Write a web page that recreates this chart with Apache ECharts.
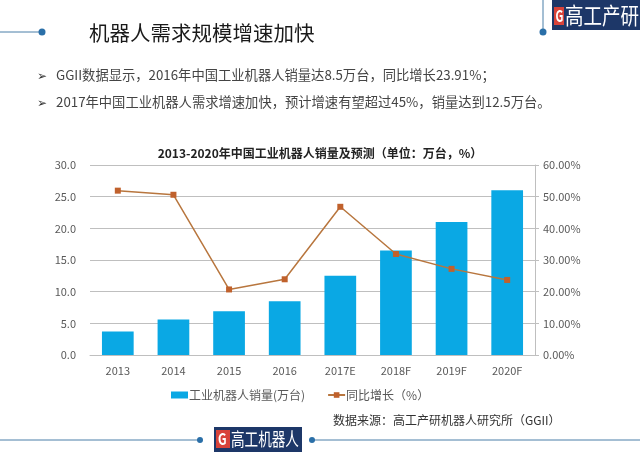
<!DOCTYPE html>
<html><head><meta charset="utf-8">
<script src="https://cdn.jsdelivr.net/npm/echarts@6/dist/echarts.min.js"></script>
<style>html,body{margin:0;padding:0;background:#fff}#c{width:640px;height:462px}</style>
</head><body><div id="c"></div>
<script>
const categories = ['2013','2014','2015','2016','2017E','2018F','2019F','2020F'];
const salesValues = [3.7, 5.6, 6.9, 8.5, 12.5, 16.5, 21.0, 26.0];
const growthValues = [51.9, 50.6, 20.7, 23.91, 46.8, 31.9, 27.2, 23.7];
const leftTicks = [0, 5, 10, 15, 20, 25, 30];
const rightTicks = [0, 10, 20, 30, 40, 50, 60];

const F = '"Noto Sans CJK SC","Noto Sans",sans-serif';
const LINE = '#4a7fa8', DOT = '#2a6fa8', NAVY = '#1d3768', RED = '#d8433a';
function txt(x, y, text, font, fill, extra) {
  return Object.assign({type: 'text', x: x, y: y,
    style: {text: text, font: font, fill: fill, textVerticalAlign: 'middle'}}, extra || {});
}
const chart = echarts.init(document.getElementById('c'));
chart.setOption({
  backgroundColor: '#fff',
  animation: false,
  title: {
    text: '2013-2020年中国工业机器人销量及预测（单位：万台，%）',
    left: 315, top: 142, textAlign: 'center',
    textStyle: {fontFamily: F, fontSize: 12, fontWeight: 'bold', color: '#222'}
  },
  legend: {
    top: 384, left: 166, itemGap: 22, itemWidth: 17, itemHeight: 7,
    textStyle: {fontFamily: F, fontSize: 12, color: '#595959', padding: [0,0,0,-4]},
    data: [
      {name: '工业机器人销量(万台)', icon: 'rect'},
      {name: '同比增长（%）'}
    ]
  },
  grid: {left: 90, right: 105, top: 165, bottom: 107},
  xAxis: {
    type: 'category', data: categories,
    axisLine: {lineStyle: {color: '#bfbfbf'}},
    axisTick: {show: false},
    axisLabel: {fontFamily: F, fontSize: 11, color: '#595959', margin: 10}
  },
  yAxis: [
    {type: 'value', min: leftTicks[0], max: leftTicks[leftTicks.length-1], interval: 5,
     axisLine: {show: false}, axisTick: {show: false},
     splitLine: {lineStyle: {color: '#bfbfbf'}},
     axisLabel: {fontFamily: F, fontSize: 11, color: '#595959', margin: 14,
       formatter: v => v.toFixed(1)}},
    {type: 'value', min: rightTicks[0], max: rightTicks[rightTicks.length-1], interval: 10,
     position: 'right',
     axisLine: {show: true, lineStyle: {color: '#bfbfbf'}},
     axisTick: {show: true, length: 4, lineStyle: {color: '#bfbfbf'}},
     splitLine: {show: false},
     axisLabel: {fontFamily: F, fontSize: 11, color: '#595959', margin: 8,
       formatter: v => v.toFixed(2) + '%'}}
  ],
  series: [
    {name: '工业机器人销量(万台)', type: 'bar', data: salesValues, barWidth: '57%',
     itemStyle: {color: '#0AA8E4'}},
    {name: '同比增长（%）', type: 'line', yAxisIndex: 1, data: growthValues,
     symbol: 'rect', symbolSize: 6,
     lineStyle: {color: '#B8763E', width: 1.5},
     itemStyle: {color: '#C0612C'}}
  ],
  graphic: [
    {type: 'line', shape: {x1: 0, y1: 32, x2: 42, y2: 32}, style: {stroke: LINE, lineWidth: 1}},
    {type: 'circle', shape: {cx: 42, cy: 32, r: 3.5}, style: {fill: DOT}},
    txt(89, 33, '机器人需求规模增速加快', '20.5px ' + F, '#1a1a1a'),
    {type: 'line', shape: {x1: 543, y1: 0, x2: 543, y2: 30}, style: {stroke: LINE, lineWidth: 1}},
    {type: 'circle', shape: {cx: 543, cy: 32, r: 3.5}, style: {fill: DOT}},
    {type: 'rect', shape: {x: 552, y: 0, width: 88, height: 30}, style: {fill: NAVY}},
    {type: 'rect', shape: {x: 554, y: 7, width: 10, height: 18}, style: {fill: RED}},
    txt(555.5, 16, 'G', 'bold 11px ' + F, '#fff', {scaleY: 1.45, originX: 0, originY: 0}),
    txt(565, 16, '高工产研', '18.5px ' + F, '#fff', {scaleY: 1.2, originX: 0, originY: 0}),
    txt(37, 75, '➢', '12px ' + F, '#333'),
    txt(56, 75, 'GGII数据显示，2016年中国工业机器人销量达8.5万台，同比增长23.91%；', '13.3px ' + F, '#444'),
    txt(37, 102, '➢', '12px ' + F, '#333'),
    txt(56, 102, '2017年中国工业机器人需求增速加快，预计增速有望超过45%，销量达到12.5万台。', '13.3px ' + F, '#444'),
    txt(333, 420, '数据来源：高工产研机器人研究所（GGII）', '12px ' + F, '#333'),
    {type: 'line', shape: {x1: 0, y1: 440, x2: 200, y2: 440}, style: {stroke: LINE, lineWidth: 1}},
    {type: 'circle', shape: {cx: 200, cy: 440, r: 3}, style: {fill: DOT}},
    {type: 'line', shape: {x1: 312, y1: 440, x2: 640, y2: 440}, style: {stroke: LINE, lineWidth: 1}},
    {type: 'circle', shape: {cx: 312, cy: 440, r: 3}, style: {fill: DOT}},
    {type: 'rect', shape: {x: 214, y: 427, width: 88, height: 25}, style: {fill: NAVY}},
    {type: 'rect', shape: {x: 216, y: 430, width: 14, height: 18}, style: {fill: RED}},
    txt(218, 439, 'G', 'bold 12px ' + F, '#fff', {scaleY: 1.35, originX: 0, originY: 0}),
    txt(231, 439, '高工机器人', '13.6px ' + F, '#fff', {scaleY: 1.35, originX: 0, originY: 0})
  ]
});
</script></body></html>
